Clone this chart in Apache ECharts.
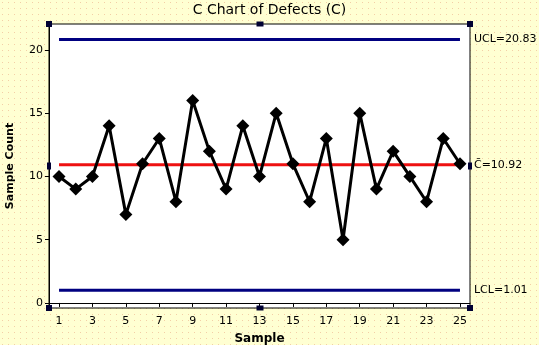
<!DOCTYPE html>
<html>
<head>
<meta charset="utf-8">
<script src="https://cdn.jsdelivr.net/npm/echarts@6/dist/echarts.min.js"></script>
<style>
  html, body { margin: 0; padding: 0; }
  #chart { width: 539px; height: 345px; }
</style>
</head>
<body>
<div id="chart"></div>
<script>
// Defect counts per sample
const samples = [1,2,3,4,5,6,7,8,9,10,11,12,13,14,15,16,17,18,19,20,21,22,23,24,25];
const defects = [10,9,10,14,7,11,13,8,16,12,9,14,10,15,11,8,13,5,15,9,12,10,8,13,11];

// Control limits
const ucl = 20.83;
const centerLine = 10.92;
const lcl = 1.01;

// Axis ticks
const xTicks = [1,3,5,7,9,11,13,15,17,19,21,23,25];
const yTicks = [0,5,10,15,20];

const FONT = 'DejaVu Sans';

// Dotted pale-yellow backdrop
function makePattern() {
  const c = document.createElement('canvas');
  c.width = 6; c.height = 6;
  const g = c.getContext('2d');
  g.fillStyle = '#ffffd2';
  g.fillRect(0, 0, 6, 6);
  g.fillStyle = '#f3cfa6';
  g.fillRect(2, 2, 1, 1);
  return c;
}

const chart = echarts.init(document.getElementById('chart'));

const G = { left: 49, right: 69, top: 24, bottom: 37 };
const W = 539, H = 345;
const gx0 = G.left, gx1 = W - G.right, gy0 = G.top, gy1 = H - G.bottom;
const gxm = Math.round((gx0 + gx1) / 2), gym = Math.round((gy0 + gy1) / 2);

function handle(x, y, w, h) {
  return { type: 'rect', shape: { x: x - w / 2, y: y - h / 2, width: w, height: h },
           style: { fill: '#000033' }, z: 100 };
}

function limitLine(name, value, color, label) {
  return {
    name: name,
    type: 'line',
    data: [[samples[0], value], [samples[samples.length - 1], value]],
    symbol: 'none',
    lineStyle: { color: color, width: 3 },
    z: 2,
    silent: true,
    animation: false,
    endLabel: {
      show: true,
      formatter: label,
      distance: 14,
      color: '#000',
      fontFamily: FONT,
      fontSize: 11
    }
  };
}

chart.setOption({
  animation: false,
  backgroundColor: { image: makePattern(), repeat: 'repeat' },
  title: {
    text: 'C Chart of Defects (C)',
    left: 'center',
    top: -2,
    textStyle: { fontFamily: FONT, fontSize: 14, fontWeight: 'normal', color: '#000' }
  },
  grid: {
    left: G.left, right: G.right, top: G.top, bottom: G.bottom,
    outerBoundsMode: 'none',
    containLabel: false,
    show: true, backgroundColor: '#ffffff', borderColor: '#000', borderWidth: 1
  },
  xAxis: {
    type: 'value',
    min: 0.4, max: 25.6,
    name: 'Sample',
    nameLocation: 'middle',
    nameGap: 25,
    nameTextStyle: { fontFamily: FONT, fontSize: 12, fontWeight: 'bold', color: '#000' },
    axisLine: { lineStyle: { color: '#000', width: 1 } },
    axisTick: { customValues: xTicks, length: 4, lineStyle: { color: '#000' } },
    axisLabel: { customValues: xTicks, fontFamily: FONT, fontSize: 11, color: '#000', margin: 8 },
    splitLine: { show: false }
  },
  yAxis: {
    type: 'value',
    min: -0.4, max: 22.05,
    name: 'Sample Count',
    nameLocation: 'middle',
    nameGap: 33,
    nameTextStyle: { fontFamily: FONT, fontSize: 11, fontWeight: 'bold', color: '#000' },
    axisLine: { show: true, lineStyle: { color: '#000', width: 1 } },
    axisTick: { show: true, customValues: yTicks, length: 4, lineStyle: { color: '#000' } },
    axisLabel: { customValues: yTicks, fontFamily: FONT, fontSize: 11, color: '#000', margin: 6 },
    splitLine: { show: false }
  },
  series: [
    limitLine('UCL', ucl, '#000080', 'UCL=20.83'),
    limitLine('CL', centerLine, '#ee1111', 'C\u0304=10.92'),
    limitLine('LCL', lcl, '#000080', 'LCL=1.01'),
    {
      name: 'Defects',
      type: 'line',
      data: samples.map((s, i) => [s, defects[i]]),
      symbol: 'diamond',
      symbolSize: 13,
      showAllSymbol: true,
      lineStyle: { color: '#000', width: 3 },
      itemStyle: { color: '#000' },
      z: 5
    }
  ],
  graphic: [
    handle(gx0, gy0, 6, 6), handle(gxm, gy0, 7, 5), handle(gx1, gy0, 6, 6),
    handle(gx0, gym, 4, 7), handle(gx1, gym, 4, 7),
    handle(gx0, gy1, 6, 6), handle(gxm, gy1, 7, 5), handle(gx1, gy1, 6, 6)
  ]
});
</script>
</body>
</html>
